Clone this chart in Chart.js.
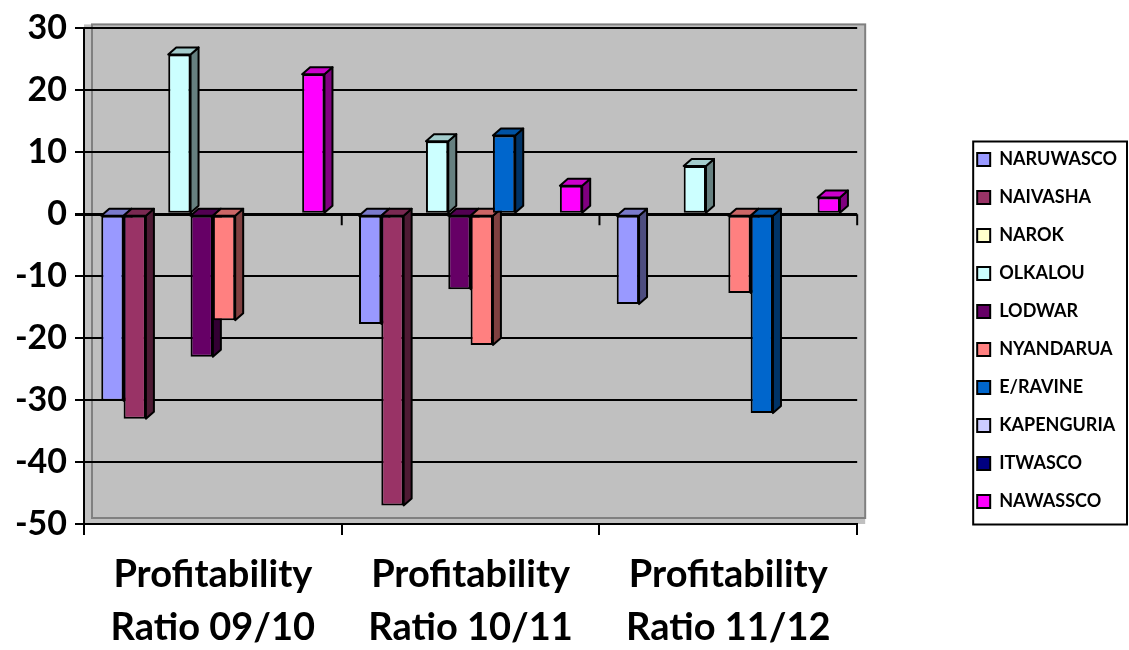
<!DOCTYPE html>
<html>
<head>
<meta charset="utf-8">
<script src="https://cdn.jsdelivr.net/npm/chart.js@4.4.0/dist/chart.umd.min.js"></script>
<style>
  body { margin: 0; background: #fff; }
  #wrap { width: 1129px; height: 650px; }
</style>
</head>
<body>
<div id="wrap"><canvas id="profitChart" width="1129" height="650"></canvas></div>
<script>
// categories (two-line labels) and y axis range
const categories = [
    ['Profitability', 'Ratio 09/10'],
    ['Profitability', 'Ratio 10/11'],
    ['Profitability', 'Ratio 11/12']
];
const yTicks = [30, 20, 10, 0, -10, -20, -30, -40, -50];

// series values, one per category (null = no bar)
const naruwasco  = [-30.1, -17.7, -14.5];
const naivasha   = [-33.0, -47.0, null];
const narok      = [null, null, null];
const olkalou    = [25.8, 11.8, 7.8];
const lodwar     = [-23.0, -12.1, null];
const nyandarua  = [-17.1, -21.1, -12.7];
const eravine    = [null, 12.7, -32.1];
const kapenguria = [null, null, null];
const itwasco    = [null, null, null];
const nawassco   = [22.6, 4.6, 2.7];

const seriesNames = ['NARUWASCO', 'NAIVASHA', 'NAROK', 'OLKALOU', 'LODWAR',
    'NYANDARUA', 'E/RAVINE', 'KAPENGURIA', 'ITWASCO', 'NAWASSCO'];
const seriesValues = [naruwasco, naivasha, narok, olkalou, lodwar,
    nyandarua, eravine, kapenguria, itwasco, nawassco];
const seriesColors = ['#9999FF', '#993366', '#FFFFCC', '#CCFFFF', '#660066',
    '#FF8080', '#0066CC', '#CCCCFF', '#000080', '#FF00FF'];

const FONT = 'Lato';

function shade(hex, f) {
    const n = parseInt(hex.slice(1), 16);
    const r = Math.round(((n >> 16) & 255) * f);
    const g = Math.round(((n >> 8) & 255) * f);
    const b = Math.round((n & 255) * f);
    return 'rgb(' + r + ',' + g + ',' + b + ')';
}

// gray plot wall behind the bars
const wallPlugin = {
    id: 'wall',
    beforeDraw(chart) {
        const {ctx, chartArea: a} = chart;
        ctx.save();
        ctx.fillStyle = '#fff';
        ctx.fillRect(0, 0, chart.width, chart.height);
        ctx.fillStyle = '#C0C0C0';
        ctx.fillRect(a.left, a.top - 4, a.right - a.left + 8, a.bottom - a.top + 4);
        ctx.strokeStyle = '#808080';
        ctx.lineWidth = 2;
        ctx.strokeRect(a.left + 8, a.top - 4, a.right - a.left, a.bottom - a.top - 2);
        ctx.restore();
    }
};

// fake 3D: side and top faces of every bar
const depthPlugin = {
    id: 'depth',
    beforeDatasetsDraw(chart) {
        const ctx = chart.ctx;
        const dx = 8, dy = 7;
        ctx.save();
        ctx.lineWidth = 2;
        ctx.strokeStyle = '#000';
        ctx.lineJoin = 'round';
        chart.data.datasets.forEach((ds, i) => {
            const meta = chart.getDatasetMeta(i);
            meta.data.forEach((bar, j) => {
                if (ds.data[j] === null) return;
                const p = bar.getProps(['x', 'y', 'base', 'width'], true);
                const l = p.x - p.width / 2, r = p.x + p.width / 2;
                const top = Math.min(p.y, p.base), bot = Math.max(p.y, p.base);
                ctx.fillStyle = shade(seriesColors[i], 0.5);
                ctx.beginPath();
                ctx.moveTo(r, top); ctx.lineTo(r + dx, top - dy);
                ctx.lineTo(r + dx, bot - dy); ctx.lineTo(r, bot);
                ctx.closePath(); ctx.fill(); ctx.stroke();
                ctx.fillStyle = shade(seriesColors[i], 0.8);
                ctx.beginPath();
                ctx.moveTo(l, top); ctx.lineTo(l + dx, top - dy);
                ctx.lineTo(r + dx, top - dy); ctx.lineTo(r, top);
                ctx.closePath(); ctx.fill(); ctx.stroke();
            });
        });
        ctx.restore();
    },
    afterDatasetsDraw(chart) {
        // category axis at zero with its tick marks
        const {ctx, scales: {x, y}} = chart;
        const y0 = y.getPixelForValue(0);
        ctx.save();
        ctx.strokeStyle = '#000';
        ctx.lineWidth = 2;
        const step = x.getPixelForValue(1) - x.getPixelForValue(0);
        for (let i = 0; i < categories.length; i++) {
            const bx = x.getPixelForValue(i) + step / 2;
            ctx.beginPath();
            ctx.moveTo(bx, y0);
            ctx.lineTo(bx, y0 + 11);
            ctx.stroke();
        }
        ctx.restore();
    }
};

// lift the legend a little and draw a border round it
const legendBoxPlugin = {
    id: 'legendBox',
    afterLayout(chart) {
        chart.legend.top -= 6;
        chart.legend.bottom -= 6;
    },
    afterDraw(chart) {
        const hb = chart.legend.legendHitBoxes;
        if (!hb || !hb.length) return;
        const first = hb[0], last = hb[hb.length - 1];
        const ctx = chart.ctx;
        const top = first.top + first.height / 2 - 18;
        const bottom = last.top + last.height / 2 + 23;
        ctx.save();
        ctx.strokeStyle = '#000';
        ctx.lineWidth = 2;
        ctx.strokeRect(first.left - 4, top, 1127 - (first.left - 4), bottom - top);
        ctx.restore();
    }
};

const ctx = document.getElementById('profitChart').getContext('2d');
const profitChart = new Chart(ctx, {
    type: 'bar',
    data: {
        labels: categories,
        datasets: seriesNames.map((name, i) => ({
            label: name,
            data: seriesValues[i],
            backgroundColor: seriesColors[i],
            borderColor: '#000',
            borderWidth: 2,
            borderSkipped: false,
            barPercentage: 1,
            categoryPercentage: 0.866
        }))
    },
    options: {
        responsive: false,
        animation: false,
        layout: { padding: { top: 23, right: 2, bottom: 0, left: 0 } },
        plugins: {
            legend: {
                position: 'right',
                labels: {
                    boxWidth: 13,
                    boxHeight: 13,
                    padding: 20,
                    color: '#000',
                    font: { family: FONT, weight: 'bold', size: 18 }
                }
            },
            tooltip: { enabled: false }
        },
        scales: {
            x: {
                grid: { drawOnChartArea: false, drawTicks: true, tickLength: 11, color: '#000', lineWidth: 2, offset: true },
                border: { color: '#000', width: 2 },
                ticks: {
                    color: '#000',
                    padding: 13,
                    maxRotation: 0,
                    font: { family: FONT, weight: 'bold', size: 38, lineHeight: 1.4 }
                },
                afterFit: s => { s.height = 126; }
            },
            y: {
                min: yTicks[yTicks.length - 1],
                max: yTicks[0],
                afterBuildTicks: s => { s.ticks = yTicks.map(v => ({ value: v })); },
                grid: {
                    color: '#000',
                    lineWidth: c => (c.tick && c.tick.value === 0 ? 3 : 2),
                    tickLength: 9
                },
                border: { color: '#000', width: 2 },
                ticks: {
                    color: '#000',
                    padding: 8,
                    font: { family: FONT, weight: 'bold', size: 34 }
                },
                afterFit: s => { s.width = 84; }
            },
            gap: {
                type: 'linear',
                position: 'right',
                display: true,
                grid: { display: false, drawTicks: false },
                border: { display: false },
                ticks: { display: false },
                afterFit: s => { s.width = 100; }
            }
        }
    },
    plugins: [wallPlugin, depthPlugin, legendBoxPlugin]
});
</script>
</body>
</html>
